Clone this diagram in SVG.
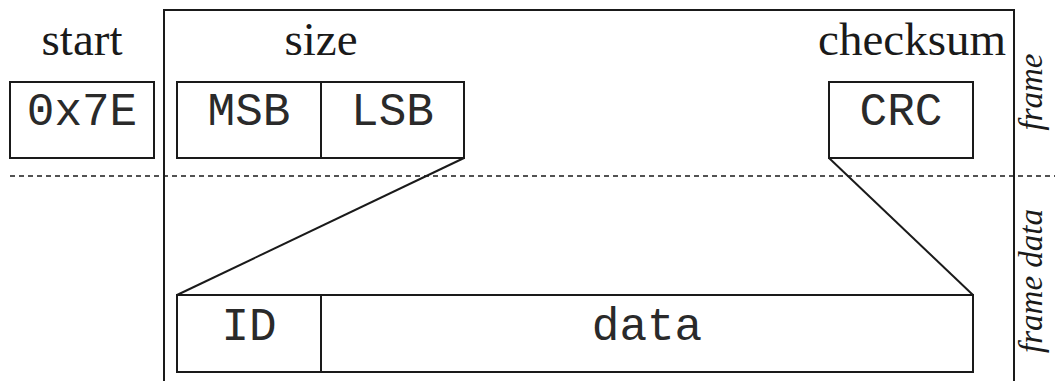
<svg xmlns="http://www.w3.org/2000/svg" width="1055" height="381" viewBox="0 0 1055 381">
  <style>
    .box { fill: none; stroke: #1a1a1a; stroke-width: 2; }
    .line { fill: none; stroke: #1a1a1a; stroke-width: 2; }
    .dash { fill: none; stroke: #1a1a1a; stroke-width: 1.6; stroke-dasharray: 5 4; }
    .mono { font-family: "Liberation Mono", "Courier New", monospace; font-size: 46px; fill: #2a2a2a; text-anchor: middle; }
    .head { font-family: "Liberation Serif", "Times New Roman", serif; font-size: 47px; fill: #1a1a1a; }
    .side { font-family: "Liberation Serif", "Times New Roman", serif; font-style: italic; font-size: 33px; fill: #1a1a1a; text-anchor: middle; }
  </style>
  <rect width="1055" height="381" fill="#ffffff"/>

  <!-- frame outline, open at the bottom -->
  <path class="line" d="M164 381 V10 H1014 V381"/>
  <!-- frame / frame data separator -->
  <line class="dash" x1="10" y1="176" x2="1055" y2="176"/>

  <!-- field headings -->
  <text class="head" x="82" y="55" text-anchor="middle">start</text>
  <text class="head" x="321" y="55" text-anchor="middle">size</text>
  <text class="head" x="1006" y="55" text-anchor="end">checksum</text>

  <!-- section labels -->
  <text class="side" transform="translate(1042 92) rotate(-90)">frame</text>
  <text class="side" transform="translate(1042 281) rotate(-90)">frame data</text>

  <g id="start-byte">
    <rect class="box" x="10" y="82" width="144" height="76"/>
    <text class="mono" x="82" y="125">0x7E</text>
  </g>

  <g id="size-msb">
    <rect class="box" x="177" y="82" width="144" height="76"/>
    <text class="mono" x="249" y="125">MSB</text>
  </g>

  <g id="size-lsb">
    <rect class="box" x="321" y="82" width="143" height="76"/>
    <text class="mono" x="392.5" y="125">LSB</text>
  </g>

  <g id="checksum-crc">
    <rect class="box" x="829" y="82" width="144" height="76"/>
    <text class="mono" x="901" y="125">CRC</text>
  </g>

  <g id="data-id">
    <rect class="box" x="177" y="295" width="144" height="77"/>
    <text class="mono" x="249" y="340">ID</text>
  </g>

  <g id="data-payload">
    <rect class="box" x="321" y="295" width="652" height="77"/>
    <text class="mono" x="647" y="340">data</text>
  </g>

  <!-- expansion lines from the frame to its data section -->
  <g id="connectors">
    <line class="line" x1="464" y1="158" x2="177" y2="295"/>
    <line class="line" x1="829" y1="158" x2="973" y2="295"/>
  </g>
</svg>
